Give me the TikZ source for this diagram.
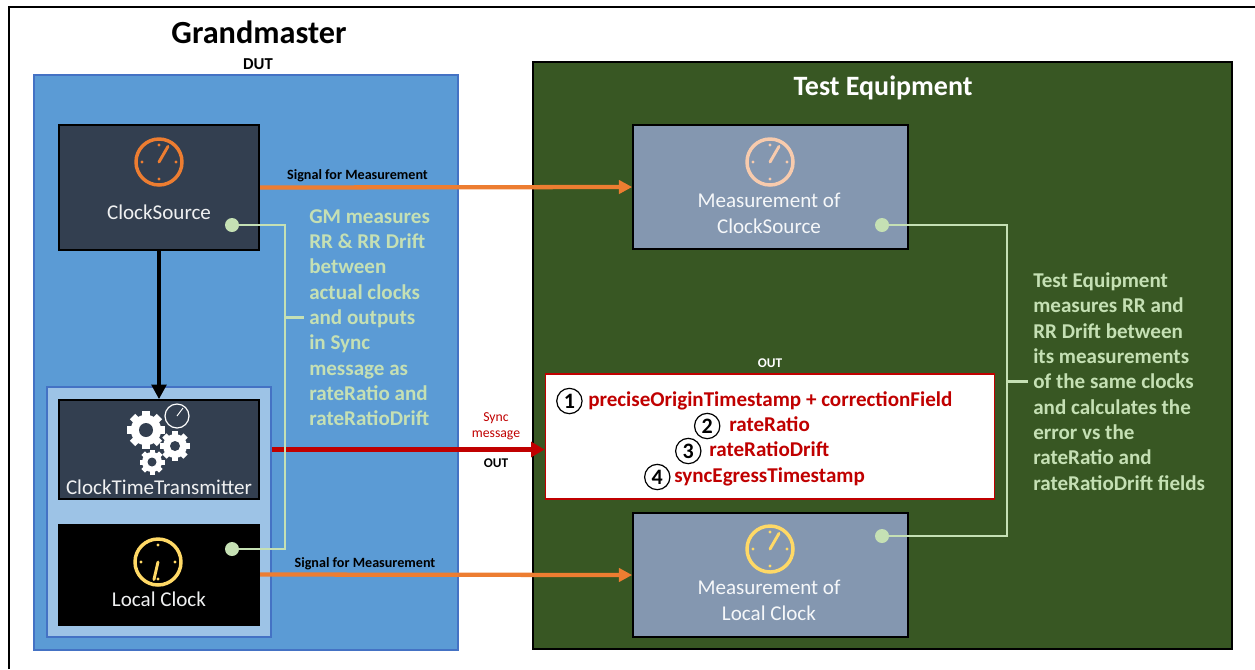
\documentclass[tikz,border=0pt]{standalone}
\usepackage{fontspec}
\setmainfont{Carlito}
\usepackage{tikz}
\usetikzlibrary{positioning, arrows.meta}

\definecolor{gmblue}{HTML}{5B9BD5}
\definecolor{gmedge}{HTML}{4472C4}
\definecolor{innerblue}{HTML}{9DC3E6}
\definecolor{slate}{HTML}{333F50}
\definecolor{greyblue}{HTML}{8497B0}
\definecolor{testgreen}{HTML}{385723}
\definecolor{paleGreen}{HTML}{C5E0B4}
\definecolor{clockorange}{HTML}{ED7D31}
\definecolor{clockpeach}{HTML}{F8CBAD}
\definecolor{clockyellow}{HTML}{FFD966}
\definecolor{msgred}{HTML}{C00000}

\newcommand{\clockface}[4]{
  \draw[#3, line width=2.6pt] (#1,#2) circle (23);
  \foreach \tick in {0,90,180,270}
    \fill[#3] (#1,#2) ++(\tick:17) circle (1.6);
  \draw[#3, line width=2.2pt, line cap=round] (#1,#2) -- ++(#4:18);
}
\newcommand{\gearicon}[4]{
  \foreach \tooth in {0,45,...,315}
    \fill[white, shift={(#1,#2)}, rotate=\tooth] ({-0.2*#3},{0.6*#3}) rectangle ({0.2*#3},#3);
  \fill[white] (#1,#2) circle ({0.8*#3});
  \fill[slate] (#1,#2) circle (#4);
}

\begin{document}
\begin{tikzpicture}[x=0.75pt, y=-0.75pt,
  panel/.style={draw, line width=1.2pt, inner sep=0pt},
  clockbox/.style={draw=black, line width=1.5pt, inner sep=0pt, minimum width=150pt},
  measbox/.style={draw=black, line width=1.5pt, fill=greyblue, inner sep=0pt, minimum width=206pt, minimum height=93pt},
  boxlabel/.style={text=white!92!slate, inner sep=0pt, align=center, font=\fontsize{15.8}{19}\selectfont},
  measlabel/.style={text=white!92!greyblue, inner sep=0pt, align=center, font=\fontsize{15.8}{19.3}\selectfont},
  note/.style={text=paleGreen, inner sep=0pt, align=left, font=\fontsize{15.8}{19}\selectfont\bfseries},
  tag/.style={inner sep=0pt, font=\fontsize{10.6}{12}\selectfont\bfseries},
  msgfield/.style={text=msgred, inner sep=0pt, text height=11pt, text depth=3.5pt, font=\fontsize{15.8}{17}\selectfont\bfseries},
  numcircle/.style={circle, draw=black, fill=white, line width=0.9pt, inner sep=0pt, minimum size=19pt, font=\fontsize{16.5}{18}\selectfont\bfseries},
  signal/.style={clockorange, line width=3.2pt, -{Triangle[length=10pt, width=10pt]}},
  dotnode/.style={circle, fill=paleGreen, inner sep=0pt, minimum size=10.5pt},
  wire/.style={paleGreen, line width=1.6pt}]

\useasboundingbox (0,0) rectangle (1255,669);

\draw[line width=1.5pt] (9,669) -- (9,7) -- (1255,7);

\node[panel, draw=gmedge, fill=gmblue, minimum width=318pt, minimum height=431pt] (gm) at (246,362.5) {};
\node[panel, draw=gmedge, fill=innerblue, minimum width=168pt, minimum height=187.5pt] (inner) at (159,512) {};
\node[panel, draw=black, fill=testgreen, minimum width=524pt, minimum height=440pt] (test) at (882.5,355.5) {};

\node[font=\fontsize{24.2}{28}\selectfont\bfseries, inner sep=0pt] (gmtitle) at (259,32) {Grandmaster};
\node[tag, font=\fontsize{12.5}{14}\selectfont\bfseries] (dut) at (258,64.5) {DUT};
\node[text=white, inner sep=0pt, font=\fontsize{21}{25}\selectfont\bfseries] (testtitle) at (883,88) {Test Equipment};

\node[clockbox, fill=slate, minimum height=93.5pt] (source) at (159,187.5) {};
\node[clockbox, fill=slate, minimum height=74pt] (transmitter) at (159,449.5) {};
\node[clockbox, fill=black, minimum height=75pt] (local) at (159,574.5) {};
\node[measbox] (meassource) at (770.5,187) {};
\node[measbox] (measlocal) at (770.5,575) {};

\node[panel, draw=msgred, fill=white, minimum width=337pt, minimum height=93.5pt] (msg) at (770,436.5) {};

\clockface{159}{162}{clockorange}{-60}
\clockface{770}{162}{clockpeach}{-60}
\clockface{158}{562}{clockyellow}{103}
\clockface{770}{549}{clockyellow}{-60}

\gearicon{146}{430}{19}{7}
\gearicon{175}{446}{15}{5}
\gearicon{152}{462}{12.5}{4.5}
\draw[white, line width=0.9pt] (177,416) circle (12);
\draw[white, line width=0.7pt] (177,416) -- (183,408);

\node[boxlabel] (sourcelabel) at (159,212) {ClockSource};
\node[boxlabel] (transmitterlabel) at (159,487) {ClockTimeTransmitter};
\node[boxlabel] (locallabel) at (159,599) {Local Clock};
\node[measlabel] (meassourcelabel) at (769,213) {Measurement of\\ClockSource};
\node[measlabel] (measlocallabel) at (769,600) {Measurement of\\Local Clock};

\draw[line width=3pt, -{Triangle[length=11pt, width=11pt]}] (source.south) -- (transmitter.north);
\draw[signal] (source.east) -- (meassource.west);
\draw[signal] (local.east) -- (measlocal.west);
\draw[msgred, line width=3.2pt, -{Triangle[length=10pt, width=11pt]}] (inner.east |- transmitter.east) -- (msg.west |- transmitter.east);

\node[tag] (signalup) at (357.5,176) {Signal for Measurement};
\node[tag] (signaldown) at (365,564) {Signal for Measurement};
\node[text=msgred, inner sep=0pt, align=center, font=\fontsize{10.3}{12.2}\selectfont] (syncmsg) at (496,426) {Sync\\message};
\node[tag, font=\fontsize{10}{12}\selectfont\bfseries] (outblack) at (496,463.5) {OUT};
\node[tag, font=\fontsize{10}{12}\selectfont\bfseries, text=white] (outwhite) at (770,363) {OUT};

\node[note, anchor=west] (gmnote) at (309,317.5) {GM measures\\RR \& RR Drift\\between\\actual clocks\\and outputs\\in Sync\\message as\\rateRatio and\\rateRatioDrift};
\node[note, anchor=west] (testnote) at (1033,381.5) {Test Equipment\\measures RR and\\RR Drift between\\its measurements\\of the same clocks\\and calculates the\\error vs the\\rateRatio and\\rateRatioDrift fields};

\node[dotnode] (dotsource) at (232,225) {};
\node[dotnode] (dotlocal) at (232,549) {};
\node[dotnode] (dotmeassource) at (882,225) {};
\node[dotnode] (dotmeaslocal) at (882,536) {};
\coordinate (gmbus) at (285,317.5);
\coordinate (testbus) at (1007,381.5);

\draw[wire] (dotsource) -| (gmbus) |- (dotlocal);
\draw[wire] (gmbus) -- ([xshift=-4pt]gmnote.west);
\draw[wire] (dotmeassource) -| (testbus) |- (dotmeaslocal);
\draw[wire] (testbus) -- ([xshift=-4pt]testnote.west);

\node[msgfield, anchor=west] (fieldone) at (588,401) {preciseOriginTimestamp + correctionField};
\node[msgfield, anchor=west] (fieldtwo) at (729,426) {rateRatio};
\node[msgfield, anchor=west] (fieldthree) at (709,451) {rateRatioDrift};
\node[msgfield, anchor=west] (fieldfour) at (674,477) {syncEgressTimestamp};
\node[numcircle, left=4pt of fieldone] (numone) {1};
\node[numcircle, left=6.4pt of fieldtwo] (numtwo) {2};
\node[numcircle, left=5.6pt of fieldthree] (numthree) {3};
\node[numcircle, left=2.6pt of fieldfour] (numfour) {4};

\end{tikzpicture}
\end{document}
